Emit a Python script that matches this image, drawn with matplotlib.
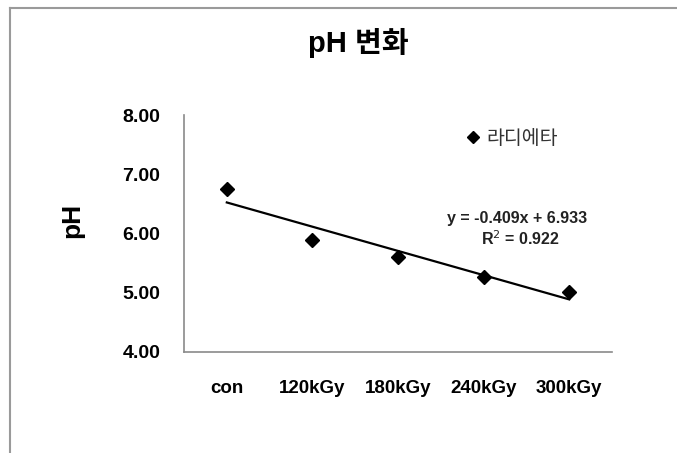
import matplotlib.pyplot as plt
from matplotlib.lines import Line2D

plt.rcParams['font.family'] = ['Liberation Sans', 'Noto Sans CJK KR', 'DejaVu Sans']

# pH 측정값 (조사선량별)
categories = ["con", "120kGy", "180kGy", "240kGy", "300kGy"]
ph_values = [6.75, 5.89, 5.61, 5.26, 5.02]
series_name = "라디에타"

# 선형 추세선 계수
slope = -0.409
intercept = 6.933
r_squared = 0.922

yticks = [4.0, 5.0, 6.0, 7.0, 8.0]

fig = plt.figure(figsize=(6.77, 4.53), dpi=100)
W, H = 677, 453

# 바깥 테두리 (왼쪽, 위쪽만 보임)
fig.add_artist(Line2D([10 / W, 10 / W], [0, 1 - 8 / H], color="#9a9a9a", lw=1.5))
fig.add_artist(Line2D([10 / W, 1], [1 - 8 / H, 1 - 8 / H], color="#9a9a9a", lw=1.5))

ax = fig.add_axes([184 / W, 1 - 352 / H, 428 / W, 237 / H])

x = list(range(1, len(categories) + 1))
ax.plot(x, ph_values, linestyle="none", marker="D", color="black", ms=7.5, label=series_name)

trend_x = [x[0], x[-1]]
trend_y = [slope * v + intercept for v in trend_x]
ax.plot(trend_x, trend_y, color="black", lw=1.6)

ax.set_xlim(0.5, len(categories) + 0.5)
ax.set_ylim(4, 8)
ax.set_xticks(x)
ax.set_xticklabels(categories, fontsize=13.5, fontweight="bold")
ax.set_yticks(yticks)
ax.set_yticklabels([f"{v:.2f}" for v in yticks], fontsize=14, fontweight="bold")
ax.tick_params(axis="x", length=0, pad=20)
ax.tick_params(axis="y", length=0, pad=17)

for s in ["top", "right"]:
    ax.spines[s].set_visible(False)
for s in ["left", "bottom"]:
    ax.spines[s].set_color("#8a8a8a")
    ax.spines[s].set_linewidth(1.2)

fig.text(72 / W, 1 - 220 / H, "pH", rotation=90, fontsize=19, fontweight="bold",
         ha="center", va="center")
fig.text(358 / W, 1 - 43 / H, "pH 변화", fontsize=21, fontweight="bold",
         ha="center", va="center")

eq = f"y = {slope:.3f}x + {intercept:.3f}"
fig.text(517 / W, 1 - 218 / H, eq, fontsize=11.5, fontweight="bold",
         ha="center", va="center", color="#222222")
fig.text(520 / W, 1 - 239 / H, f"R$^2$ = {r_squared:.3f}", fontsize=11.5, fontweight="bold",
         ha="center", va="center", color="#222222")

leg = ax.legend(loc="center left", bbox_to_anchor=(465 / W, 1 - 138 / H),
                bbox_transform=fig.transFigure, frameon=False, borderaxespad=0,
                borderpad=0, handlelength=0.8, handletextpad=0.3,
                prop={"family": ["Noto Sans CJK KR"], "size": 14, "weight": "light"})
leg.legend_handles[0].set_markersize(6)
for t in leg.get_texts():
    t.set_color("#333333")

fig.savefig("out.png", dpi=100)
